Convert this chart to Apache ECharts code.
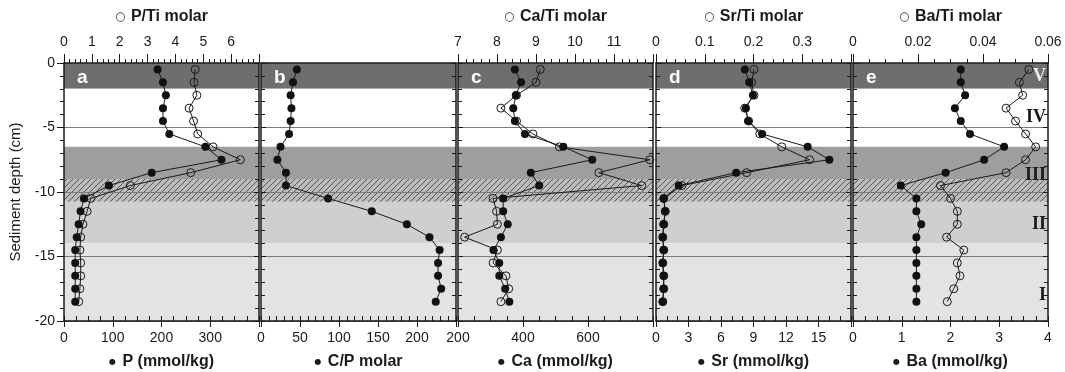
<!DOCTYPE html>
<html>
<head>
<meta charset="utf-8">
<script src="https://cdn.jsdelivr.net/npm/echarts@6/dist/echarts.min.js"></script>
<style>
  html, body { margin: 0; background: #fff; }
  #main { width: 1065px; height: 372px; }
</style>
</head>
<body>
<div id="main"></div>
<script>
// sample depths (cm) shared by all panels
const depth = [-0.5, -1.5, -2.5, -3.5, -4.5, -5.5, -6.5, -7.5, -8.5, -9.5, -10.5, -11.5, -12.5, -13.5, -14.5, -15.5, -16.5, -17.5, -18.5];

const P = [192, 203, 209, 203, 203, 216, 290, 323, 180, 92, 41, 34, 30, 26, 23, 23, 23, 23, 23];
const PTi = [4.71, 4.67, 4.77, 4.49, 4.65, 4.8, 5.35, 6.33, 4.55, 2.38, 0.96, 0.83, 0.68, 0.6, 0.57, 0.6, 0.6, 0.57, 0.53];
const CP = [46, 41, 38, 39, 38, 36, 25, 21, 32, 32, 86, 142, 187, 216, 229, 227, 227, 231, 224];
const Ca = [375, 394, 378, 370, 375, 406, 524, 613, 424, 450, 339, 339, 353, 332, 309, 327, 327, 345, 358];
const CaTi = [9.11, 9.0, 8.5, 8.1, 8.5, 8.92, 9.6, 11.92, 10.61, 11.71, 7.9, 7.99, 8.01, 7.17, 8.01, 7.9, 8.23, 8.3, 8.1];
const Sr = [8.2, 8.6, 8.95, 8.3, 8.5, 9.8, 14.0, 16.0, 7.4, 2.1, 0.7, 0.85, 0.7, 0.62, 0.7, 0.62, 0.7, 0.7, 0.62];
const SrTi = [0.201, 0.196, 0.201, 0.182, 0.19, 0.213, 0.258, 0.315, 0.186, 0.053, 0.016, 0.019, 0.016, 0.014, 0.016, 0.014, 0.016, 0.016, 0.014];
const Ba = [2.21, 2.21, 2.3, 2.09, 2.21, 2.4, 3.1, 2.69, 1.9, 0.98, 1.3, 1.3, 1.4, 1.3, 1.3, 1.3, 1.3, 1.3, 1.3];
const BaTi = [0.0541, 0.0512, 0.0522, 0.0471, 0.05, 0.0531, 0.0562, 0.0531, 0.0471, 0.0269, 0.03, 0.0321, 0.0321, 0.0288, 0.0341, 0.0321, 0.0329, 0.031, 0.029];

// lithological units and zone boundaries (cm)
const units = ['V', 'IV', 'III', 'II', 'I'];
const unitDepth = [-1, -4.2, -8.7, -12.5, -18];
const zoneTop = [0, -2, -6.5, -10.75, -14];
const zoneBottom = [-2, -6.5, -10.75, -14, -20];
const hatchZone = [-9, -10.75];

const zoneColors = ['#6e6e6e', '#ffffff', '#9e9ea0', '#cfcfd0', '#e3e3e4'];
const ink = '#1a1a1a';
const font = 'Liberation Sans';

// hatch pattern for the disturbed layer
const hatch = document.createElement('canvas');
hatch.width = 6; hatch.height = 6;
const g = hatch.getContext('2d');
g.fillStyle = 'rgba(255,255,255,0.3)';
g.fillRect(0, 0, 6, 6);
g.strokeStyle = '#4a4a4a';
g.lineWidth = 0.9;
g.beginPath();
g.moveTo(0, 6); g.lineTo(6, 0);
g.moveTo(-3, 3); g.lineTo(3, -3);
g.moveTo(3, 9); g.lineTo(9, 3);
g.stroke();

const panels = [
  {letter: 'a', left: 64, x: P, xName: 'P (mmol/kg)', xMin: 0, xMax: 400, xInt: 100, xMinor: 4, showMax: false,
   r: PTi, rName: 'P/Ti molar', rMin: 0, rMax: 7, rInt: 1, rMinor: 5, rShowMax: false},
  {letter: 'b', left: 261, x: CP, xName: 'C/P molar', xMin: 0, xMax: 250, xInt: 50, xMinor: 5, showMax: false, r: null},
  {letter: 'c', left: 458, x: Ca, xName: 'Ca (mmol/kg)', xMin: 200, xMax: 800, xInt: 200, xMinor: 4, showMax: false,
   r: CaTi, rName: 'Ca/Ti molar', rMin: 7, rMax: 12, rInt: 1, rMinor: 5, rShowMax: false},
  {letter: 'd', left: 656, x: Sr, xName: 'Sr (mmol/kg)', xMin: 0, xMax: 18, xInt: 3, xMinor: 3, showMax: false,
   r: SrTi, rName: 'Sr/Ti molar', rMin: 0, rMax: 0.4, rInt: 0.1, rMinor: 5, rShowMax: false},
  {letter: 'e', left: 853, x: Ba, xName: 'Ba (mmol/kg)', xMin: 0, xMax: 4, xInt: 1, xMinor: 4, showMax: true,
   r: BaTi, rName: 'Ba/Ti molar', rMin: 0, rMax: 0.06, rInt: 0.02, rMinor: 4, rShowMax: true}
];

const frame = {color: ink, width: 1.5};
const tickStyle = {color: ink, width: 1};
const labelStyle = {fontFamily: font, fontSize: 14, color: ink};
const titleStyle = {fontFamily: font, fontSize: 16, fontWeight: 'bold', color: ink};

const grid = [], xAxis = [], yAxis = [], series = [], graphic = [];

panels.forEach((p, i) => {
  grid.push({left: p.left, top: 63, width: 195, height: 258, outerBoundsMode: 'none', containLabel: false});

  // bottom axis: labels + inside ticks
  xAxis.push({
    gridIndex: i, type: 'value', position: 'bottom', z: 3,
    min: p.xMin, max: p.xMax, interval: p.xInt,
    axisLine: {show: true, onZero: false, lineStyle: frame},
    axisTick: {show: true, inside: true, length: 5, lineStyle: tickStyle},
    minorTick: {show: true, splitNumber: p.xMinor, length: 5, lineStyle: tickStyle},
    axisLabel: {...labelStyle, margin: 10, showMaxLabel: p.showMax},
    splitLine: {show: false},
    name: '{o|●} ' + p.xName, nameLocation: 'middle', nameGap: 33,
    nameTextStyle: {...titleStyle, rich: {o: {fontFamily: 'DejaVu Sans', fontSize: 8, verticalAlign: 'middle', padding: [0, 2, 1, 0], color: ink}}}
  });
  // bottom axis: outer major ticks
  xAxis.push({
    gridIndex: i, type: 'value', position: 'bottom', z: 3,
    min: p.xMin, max: p.xMax, interval: p.xInt,
    axisLine: {show: false, onZero: false},
    axisTick: {show: true, inside: false, length: 6, lineStyle: tickStyle},
    axisLabel: {show: false}, splitLine: {show: false}
  });
  // top axis: element/Ti ratio
  if (p.r) {
    xAxis.push({
      gridIndex: i, type: 'value', position: 'top', z: 3,
      min: p.rMin, max: p.rMax, interval: p.rInt,
      axisLine: {show: true, onZero: false, lineStyle: frame},
      axisTick: {show: true, inside: false, length: 9, lineStyle: tickStyle},
      minorTick: {show: true, splitNumber: p.rMinor, length: 4, lineStyle: tickStyle},
      axisLabel: {...labelStyle, margin: 14, showMaxLabel: p.rShowMax},
      splitLine: {show: false},
      name: '{o|○} ' + p.rName, nameLocation: 'middle', nameGap: 38,
      nameTextStyle: {...titleStyle, rich: {o: {fontFamily: 'DejaVu Sans', fontSize: 12, fontWeight: 'normal', verticalAlign: 'middle', padding: [0, 1, 1, 0], color: ink}}}
    });
  } else {
    xAxis.push({
      gridIndex: i, type: 'value', position: 'top', z: 3, min: 0, max: 1,
      axisLine: {show: true, onZero: false, lineStyle: frame},
      axisTick: {show: false}, axisLabel: {show: false}, splitLine: {show: false}
    });
  }

  yAxis.push({
    gridIndex: i, type: 'value', position: 'left', z: 3,
    min: -20, max: 0, interval: 5,
    axisLine: {show: true, onZero: false, lineStyle: frame},
    axisTick: {show: true, inside: i !== 0, length: i === 0 ? 7 : 5, lineStyle: tickStyle},
    minorTick: {show: true, splitNumber: 5, length: 4, lineStyle: tickStyle},
    axisLabel: {show: i === 0, ...labelStyle, margin: 9},
    splitLine: {show: true, lineStyle: {color: '#7a7a7a', width: 1}},
    name: i === 0 ? 'Sediment depth (cm)' : '', nameLocation: 'middle', nameGap: 41,
    nameTextStyle: {fontFamily: font, fontSize: 15, color: ink}
  });
  yAxis.push({
    gridIndex: i, type: 'value', position: 'right', z: 3,
    min: -20, max: 0, interval: 5,
    axisLine: {show: true, onZero: false, lineStyle: frame},
    axisTick: {show: true, inside: true, length: 5, lineStyle: tickStyle},
    minorTick: {show: true, splitNumber: 5, length: 4, lineStyle: tickStyle},
    axisLabel: {show: false}, splitLine: {show: false}
  });

  const bandAreas = zoneTop.map((t, k) => [
    {yAxis: t, itemStyle: {color: zoneColors[k]}}, {yAxis: zoneBottom[k]}
  ]);
  bandAreas.push([{yAxis: hatchZone[0], itemStyle: {color: {image: hatch, repeat: 'repeat'}}}, {yAxis: hatchZone[1]}]);

  const band = {
    type: 'line', data: [], xAxisIndex: 3 * i, yAxisIndex: 2 * i, z: 1, silent: true,
    markArea: {silent: true, itemStyle: {borderWidth: 0}, data: bandAreas}
  };
  if (i === 4) {
    band.markPoint = {
      silent: true, symbol: 'circle', symbolSize: 0,
      data: units.map((u, k) => ({
        name: u, coord: [p.xMax, unitDepth[k]],
        label: {
          show: true, position: 'left', distance: 2, formatter: '{b}',
          fontFamily: 'Liberation Serif', fontWeight: 'bold', fontSize: 18,
          color: k === 0 ? '#ececec' : ink
        }
      }))
    };
  }
  series.push(band);

  if (p.r) {
    series.push({
      type: 'line', xAxisIndex: 3 * i + 2, yAxisIndex: 2 * i, z: 4,
      data: p.r.map((v, k) => [v, depth[k]]),
      symbol: 'circle', symbolSize: 8,
      itemStyle: {color: 'rgba(0,0,0,0)', borderColor: ink, borderWidth: 1},
      lineStyle: {color: ink, width: 1}
    });
  }
  series.push({
    type: 'line', xAxisIndex: 3 * i, yAxisIndex: 2 * i, z: 5,
    data: p.x.map((v, k) => [v, depth[k]]),
    symbol: 'circle', symbolSize: 8,
    itemStyle: {color: '#111'},
    lineStyle: {color: ink, width: 1}
  });

  graphic.push({
    type: 'text', x: p.left + 13, y: 68, z: 10, silent: true,
    style: {text: p.letter, fill: '#fff', font: 'bold 19px "Liberation Sans"'}
  });
});

const chart = echarts.init(document.getElementById('main'), null, {renderer: 'canvas'});
chart.setOption({
  animation: false,
  backgroundColor: '#fff',
  grid, xAxis, yAxis, series, graphic
});
</script>
</body>
</html>
